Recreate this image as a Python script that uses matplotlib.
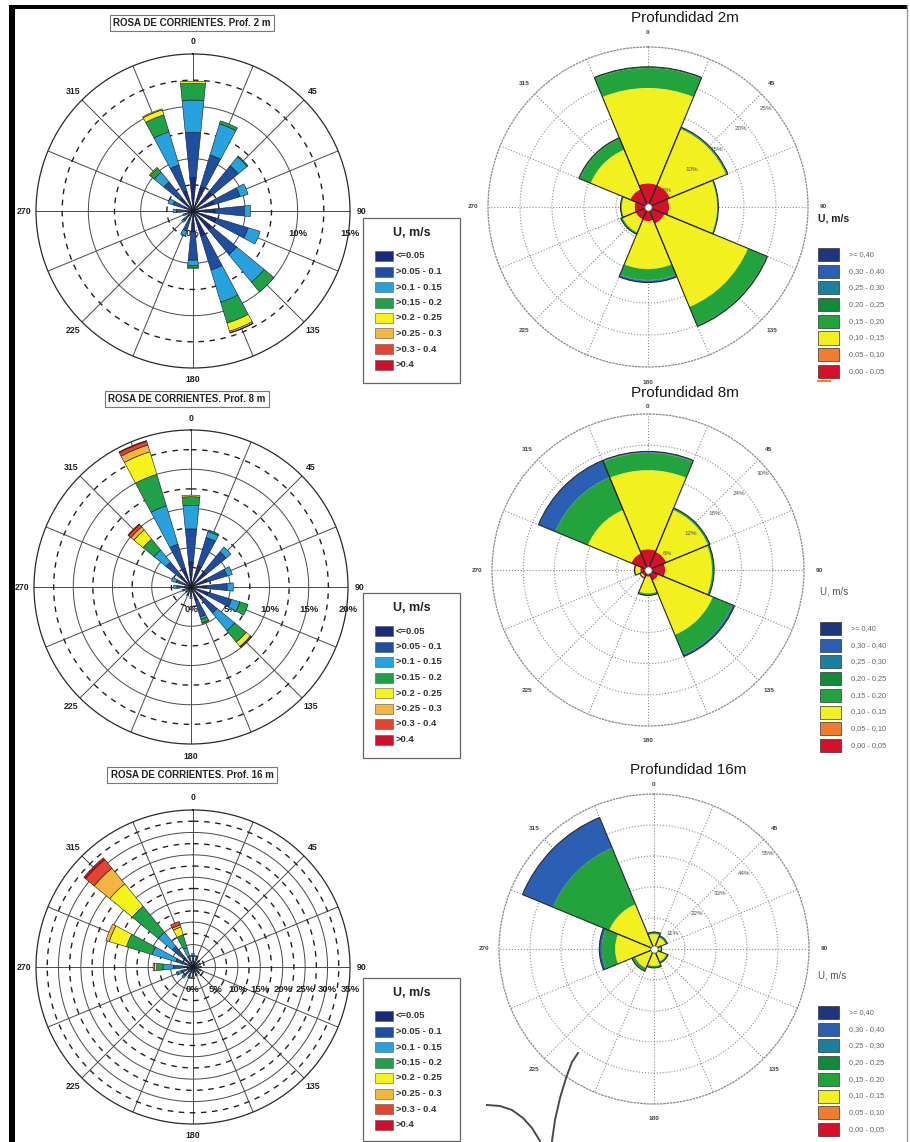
import numpy as np
import matplotlib
matplotlib.use("Agg")
import matplotlib.pyplot as plt
from matplotlib.patches import Rectangle
from matplotlib.lines import Line2D

# ---------------------------------------------------------------- data
dirs16 = np.arange(16) * 22.5          # direction bins, left-hand roses
dirs8 = np.arange(8) * 45.0            # direction bins, right-hand roses
dir_labels = [0, 45, 90, 135, 180, 225, 270, 315]

# speed classes (U, m/s) of the left-hand roses, lowest first
classes_left = ["<=0.05", ">0.05 - 0.1", ">0.1 - 0.15", ">0.15 - 0.2",
                ">0.2 - 0.25", ">0.25 - 0.3", ">0.3 - 0.4", ">0.4"]
colors_left = ["#1a2b7c", "#1e4ea0", "#27a2df", "#20a048",
               "#f6f21c", "#f5b53f", "#e2442d", "#cf0f2c"]

# frequency (%) per direction (rows, 0..337.5) and speed class (columns)
freq_2m_left = [
    [3.2, 4.3, 3.1, 1.6, 0.2, 0.0, 0.0, 0.0],
    [2.4, 3.2, 3.1, 0.3, 0.0, 0.0, 0.0, 0.0],
    [2.4, 3.2, 1.1, 0.1, 0.0, 0.0, 0.0, 0.0],
    [2.1, 2.6, 0.8, 0.0, 0.0, 0.0, 0.0, 0.0],
    [2.1, 2.8, 0.6, 0.0, 0.0, 0.0, 0.0, 0.0],
    [2.3, 3.2, 1.2, 0.0, 0.0, 0.0, 0.0, 0.0],
    [2.3, 3.1, 3.4, 1.2, 0.0, 0.0, 0.0, 0.0],
    [2.5, 3.4, 3.2, 2.1, 0.8, 0.15, 0.05, 0.0],
    [2.0, 2.7, 0.5, 0.2, 0.1, 0.0, 0.0, 0.0],
    [0.9, 1.1, 0.5, 0.0, 0.0, 0.0, 0.0, 0.0],
    [0.6, 0.6, 0.2, 0.0, 0.0, 0.0, 0.0, 0.0],
    [0.4, 0.4, 0.2, 0.0, 0.0, 0.0, 0.0, 0.0],
    [0.7, 0.9, 0.3, 0.0, 0.0, 0.0, 0.0, 0.0],
    [0.9, 1.1, 0.5, 0.0, 0.0, 0.0, 0.0, 0.0],
    [1.6, 2.0, 1.2, 0.5, 0.1, 0.0, 0.0, 0.0],
    [2.0, 2.6, 3.3, 1.7, 0.5, 0.1, 0.0, 0.0],
]
freq_8m_left = [
    [3.2, 4.2, 3.0, 1.1, 0.2, 0.0, 0.0, 0.0],
    [2.8, 3.8, 0.8, 0.2, 0.0, 0.0, 0.0, 0.0],
    [2.5, 3.3, 0.8, 0.0, 0.0, 0.0, 0.0, 0.0],
    [2.1, 2.7, 0.7, 0.0, 0.0, 0.0, 0.0, 0.0],
    [2.0, 2.6, 0.8, 0.0, 0.0, 0.0, 0.0, 0.0],
    [2.3, 3.1, 1.1, 1.1, 0.0, 0.0, 0.0, 0.0],
    [1.9, 2.4, 2.9, 1.9, 0.7, 0.1, 0.1, 0.0],
    [1.8, 2.2, 0.3, 0.5, 0.1, 0.0, 0.0, 0.0],
    [0.6, 0.6, 0.3, 0.0, 0.0, 0.0, 0.0, 0.0],
    [0.5, 0.5, 0.2, 0.0, 0.0, 0.0, 0.0, 0.0],
    [0.4, 0.4, 0.1, 0.0, 0.0, 0.0, 0.0, 0.0],
    [0.5, 0.5, 0.2, 0.0, 0.0, 0.0, 0.0, 0.0],
    [0.8, 1.0, 0.4, 0.0, 0.0, 0.0, 0.0, 0.0],
    [0.9, 1.1, 0.6, 0.0, 0.0, 0.0, 0.0, 0.0],
    [1.8, 2.3, 2.0, 1.8, 1.5, 0.5, 0.4, 0.1],
    [2.5, 3.2, 5.1, 4.2, 3.0, 0.9, 0.5, 0.1],
]
freq_16m_left = [
    [1.2, 1.3, 0.5, 0.0, 0.0, 0.0, 0.0, 0.0],
    [1.0, 1.0, 0.3, 0.0, 0.0, 0.0, 0.0, 0.0],
    [0.9, 0.9, 0.2, 0.0, 0.0, 0.0, 0.0, 0.0],
    [0.8, 0.8, 0.2, 0.0, 0.0, 0.0, 0.0, 0.0],
    [0.8, 0.9, 0.2, 0.0, 0.0, 0.0, 0.0, 0.0],
    [0.8, 0.9, 0.2, 0.0, 0.0, 0.0, 0.0, 0.0],
    [0.8, 0.9, 0.2, 0.0, 0.0, 0.0, 0.0, 0.0],
    [0.9, 1.0, 0.2, 0.0, 0.0, 0.0, 0.0, 0.0],
    [1.0, 1.2, 0.4, 0.0, 0.0, 0.0, 0.0, 0.0],
    [1.0, 1.2, 0.4, 0.0, 0.0, 0.0, 0.0, 0.0],
    [1.2, 1.4, 0.6, 0.0, 0.0, 0.0, 0.0, 0.0],
    [1.3, 1.5, 0.8, 0.3, 0.0, 0.0, 0.0, 0.0],
    [2.0, 2.4, 2.3, 1.4, 0.5, 0.3, 0.0, 0.0],
    [1.8, 2.2, 5.5, 6.0, 4.0, 0.8, 0.0, 0.0],
    [2.7, 3.3, 4.0, 7.5, 6.5, 4.5, 2.5, 0.5],
    [1.1, 1.4, 2.0, 3.0, 1.8, 0.5, 0.8, 0.0],
]

# speed classes of the right-hand roses, lowest first
classes_right = ["0,00 - 0,05", "0,05 - 0,10", "0,10 - 0,15", "0,15 - 0,20",
                 "0,20 - 0,25", "0,25 - 0,30", "0,30 - 0,40", ">= 0,40"]
colors_right = ["#d7102a", "#f07d2e", "#f2f01e", "#22a33c",
                "#138a3a", "#1d7f9e", "#2a5fb3", "#1f3580"]

# frequency (%) per sector (N, NE, E, SE, S, SW, W, NW) and speed class
freq_2m_right = [
    [3.7, 0.0, 14.9, 3.1, 0.2, 0.0, 0.0, 0.0],
    [3.7, 0.0, 9.5, 0.2, 0.1, 0.0, 0.0, 0.0],
    [3.3, 0.0, 7.5, 0.2, 0.0, 0.0, 0.0, 0.0],
    [2.8, 0.0, 14.1, 3.1, 0.2, 0.0, 0.0, 0.0],
    [2.2, 0.0, 7.5, 1.7, 0.1, 0.0, 0.3, 0.0],
    [2.1, 0.0, 2.2, 0.3, 0.0, 0.0, 0.0, 0.0],
    [2.1, 0.0, 2.0, 0.2, 0.0, 0.0, 0.0, 0.0],
    [3.0, 0.0, 6.7, 1.8, 0.2, 0.0, 0.0, 0.0],
]
freq_8m_right = [
    [4.0, 0.0, 15.2, 3.3, 0.1, 0.0, 0.2, 0.0],
    [3.8, 0.0, 8.7, 0.4, 0.0, 0.0, 0.0, 0.0],
    [3.3, 0.0, 9.0, 0.4, 0.0, 0.0, 0.0, 0.0],
    [2.2, 0.0, 11.3, 4.1, 0.0, 0.0, 0.4, 0.0],
    [1.3, 0.0, 3.2, 0.4, 0.0, 0.0, 0.0, 0.0],
    [1.3, 0.0, 0.3, 0.1, 0.0, 0.0, 0.0, 0.0],
    [1.5, 0.0, 0.9, 0.2, 0.0, 0.0, 0.0, 0.0],
    [3.5, 0.0, 9.0, 6.8, 0.0, 0.0, 3.5, 0.0],
]
freq_16m_right = [
    [0.0, 0.0, 5.3, 0.7, 0.0, 0.0, 0.0, 0.0],
    [0.0, 0.0, 4.5, 0.6, 0.0, 0.0, 0.0, 0.0],
    [0.0, 0.0, 2.3, 0.4, 0.0, 0.0, 0.0, 0.0],
    [0.0, 0.0, 4.8, 0.6, 0.0, 0.0, 0.0, 0.0],
    [0.0, 0.0, 6.0, 0.7, 0.0, 0.0, 0.0, 0.0],
    [0.0, 0.0, 7.3, 1.0, 0.0, 0.0, 0.2, 0.0],
    [0.0, 0.0, 13.8, 4.7, 0.0, 0.0, 0.9, 0.0],
    [0.0, 0.0, 17.2, 21.6, 0.0, 0.0, 11.7, 0.0],
]

# ---------------------------------------------------------------- figure
W, H = 910, 1142
fig = plt.figure(figsize=(W / 100, H / 100), dpi=100)
fig.patch.set_facecolor("white")
SANS = ["Liberation Sans", "DejaVu Sans"]
plt.rcParams["font.family"] = SANS


def fx(x):
    return x / W


def fy(y):
    return 1 - y / H


def polar_axes(cx, cy, R, rmax):
    ax = fig.add_axes([(cx - R) / W, 1 - (cy + R) / H, 2 * R / W, 2 * R / H],
                      projection="polar")
    ax.set_theta_zero_location("N")
    ax.set_theta_direction(-1)
    ax.set_ylim(0, rmax)
    ax.set_xticks([])
    ax.set_yticks([])
    ax.grid(False)
    ax.set_facecolor("white")
    return ax


def stacked_bars(ax, dirs, freq, colors, width_deg, **kw):
    freq = np.asarray(freq, dtype=float)
    theta = np.deg2rad(dirs)
    base = np.zeros(len(dirs))
    for k in range(freq.shape[1]):
        vals = freq[:, k]
        m = vals > 0
        if m.any():
            ax.bar(theta[m], vals[m], width=np.deg2rad(width_deg),
                   bottom=base[m], color=colors[k], zorder=3, **kw)
        base += vals
    return base


def left_rose(cx, cy, R, rmax, freq, title, title_xy, legend_top):
    ax = polar_axes(cx, cy, R, rmax)
    ax.spines["polar"].set_color("#2a2a2a")
    ax.spines["polar"].set_linewidth(0.9)
    th = np.linspace(0, 2 * np.pi, 400)
    for d in dirs16:
        ax.plot([np.deg2rad(d)] * 2, [0, rmax], color="#4a4a4a", lw=0.7, zorder=1)
    for r in np.arange(5, rmax, 5):
        ax.plot(th, np.full_like(th, r), color="#4a4a4a", lw=0.7, zorder=1)
    for r in np.arange(2.5, rmax, 5):
        ax.plot(th, np.full_like(th, r), color="#222222", lw=1.0,
                ls=(0, (4, 4)), zorder=1)
    stacked_bars(ax, dirs16, freq, colors_left, 11.25,
                 edgecolor="#1a1a1a", linewidth=0.4)
    for p in np.arange(0, rmax + 1, 5):
        ax.annotate(f"{p:g}%", xy=(np.pi / 2, p), xytext=(0, -22),
                    textcoords="offset pixels", ha="center", va="center",
                    fontsize=6.8, fontweight="bold", color="#222",
                    zorder=2, annotation_clip=False)
    for d in dir_labels:
        ax.text(np.deg2rad(d), rmax * (1 + 12 / R), str(d), ha="center",
                va="center", fontsize=6.3, fontweight="bold", color="#222")
    # title box
    fig.text(fx(title_xy[0]), fy(title_xy[1]), title, ha="center", va="center",
             fontsize=7, fontweight="bold", color="#222",
             bbox=dict(boxstyle="square,pad=0.35", fc="white", ec="#777", lw=0.8))
    # legend box
    x0, x1 = 363, 460
    y0 = legend_top
    y1 = min(legend_top + 165, H - 1)
    fig.add_artist(Rectangle((fx(x0), fy(y1)), (x1 - x0) / W, (y1 - y0) / H,
                             transform=fig.transFigure, fill=False,
                             ec="#666", lw=0.9))
    fig.text(fx(412), fy(y0 + 15), "U, m/s", ha="center", va="center",
             fontsize=9, fontweight="bold", color="#222")
    for i, (lab, col) in enumerate(zip(classes_left, colors_left)):
        yt = y0 + 33 + i * 15.5
        fig.add_artist(Rectangle((fx(375), fy(yt + 10)), 18 / W, 10 / H,
                                 transform=fig.transFigure, fc=col,
                                 ec="#555", lw=0.4))
        fig.text(fx(396), fy(yt + 5), lab, ha="left", va="center",
                 fontsize=6.8, fontweight="bold", color="#333")


def right_rose(cx, cy, R, rmax, rings, freq, title, title_xy, legend_xy,
               north_gap, unit_style):
    ax = polar_axes(cx, cy, R, rmax)
    ax.spines["polar"].set_color("#8a8a8a")
    ax.spines["polar"].set_linewidth(0.9)
    ax.spines["polar"].set_linestyle(":")
    th = np.linspace(0, 2 * np.pi, 400)
    for d in dirs16:
        ax.plot([np.deg2rad(d)] * 2, [0, rmax], color="#8f8f8f", lw=0.8,
                ls=":", zorder=1)
    for r in rings[:-1]:
        ax.plot(th, np.full_like(th, r), color="#8f8f8f", lw=0.8, ls=":", zorder=1)
    total = stacked_bars(ax, dirs8, freq, colors_right, 45, linewidth=0)
    ax.bar(np.deg2rad(dirs8), total, width=np.deg2rad(45), fill=False,
           edgecolor="#2a2a2a", linewidth=0.8, zorder=4)
    ax.scatter([0], [0], s=28, c="white", edgecolors="#555", linewidths=0.6,
               zorder=6)
    for r in rings:
        ax.text(np.deg2rad(50), r - 0.04 * rmax, f"{r:g}%", ha="center",
                va="center", fontsize=4.5, color="#555", zorder=7)
    for d in dir_labels:
        gap = north_gap if d == 0 else 15
        ax.text(np.deg2rad(d), rmax * (1 + gap / R), str(d), ha="center",
                va="center", fontsize=4.6, fontweight="bold", color="#444")
    fig.text(fx(title_xy[0]), fy(title_xy[1]), title, ha="center", va="center",
             fontsize=11, color="#1a1a1a")
    lx, ly = legend_xy
    fig.text(fx(lx), fy(ly), "U, m/s", ha="left", va="center", **unit_style)
    for i, k in enumerate(range(7, -1, -1)):
        yt = ly + 30 + i * 16.7
        fig.add_artist(Rectangle((fx(lx), fy(yt + 13)), 21 / W, 13 / H,
                                 transform=fig.transFigure, fc=colors_right[k],
                                 ec="#333", lw=0.5))
        fig.text(fx(lx + 31), fy(yt + 6.5), classes_right[k], ha="left",
                 va="center", fontsize=5.3, color="#666")


left_rose(193, 211, 157, 15, freq_2m_left, "ROSA DE CORRIENTES. Prof. 2 m",
          (192, 23), 218)
left_rose(191, 587, 157, 20, freq_8m_left, "ROSA DE CORRIENTES. Prof. 8 m",
          (187, 399), 593)
left_rose(193, 967, 157, 35, freq_16m_left, "ROSA DE CORRIENTES. Prof. 16 m",
          (192, 775), 978)

unit_bold = dict(fontsize=7.5, fontweight="bold", color="#222")
unit_plain = dict(fontsize=7, color="#555")
right_rose(648, 207, 160, 25, [5, 10, 15, 20, 25], freq_2m_right,
           "Profundidad 2m", (685, 18), (818, 218), 14, unit_bold)
right_rose(648, 570, 156, 30, [6, 12, 18, 24, 30], freq_8m_right,
           "Profundidad 8m", (685, 393), (820, 592), 8, unit_plain)
right_rose(654, 949, 155, 55, [11, 22, 33, 44, 55], freq_16m_right,
           "Profundidad 16m", (688, 770), (818, 976), 9, unit_plain)

# small orange tick under the first right-hand legend
fig.add_artist(Line2D([fx(818), fx(830)], [fy(381), fy(381)],
                      transform=fig.transFigure, color="#f08030", lw=1.5))

# pen strokes across the lower right panel
fig.add_artist(Line2D([fx(x) for x in (487, 500, 512, 523, 532, 540)],
                      [fy(y) for y in (1105, 1106, 1110, 1118, 1128, 1141)],
                      transform=fig.transFigure, color="#4a4a4a", lw=1.4))
fig.add_artist(Line2D([fx(x) for x in (578, 572, 566, 560, 555, 552)],
                      [fy(y) for y in (1053, 1062, 1078, 1098, 1120, 1141)],
                      transform=fig.transFigure, color="#4a4a4a", lw=1.4))

# page frame
fig.add_artist(Rectangle((fx(9), fy(9)), (908 - 9) / W, 4 / H,
                         transform=fig.transFigure, fc="black", ec="none"))
fig.add_artist(Rectangle((fx(9), fy(H)), 6 / W, (H - 5) / H,
                         transform=fig.transFigure, fc="black", ec="none"))
fig.add_artist(Line2D([fx(907), fx(907)], [fy(5), fy(H)],
                      transform=fig.transFigure, color="#9a9a9a", lw=1.0))

fig.savefig("out.png", dpi=100, facecolor="white")
